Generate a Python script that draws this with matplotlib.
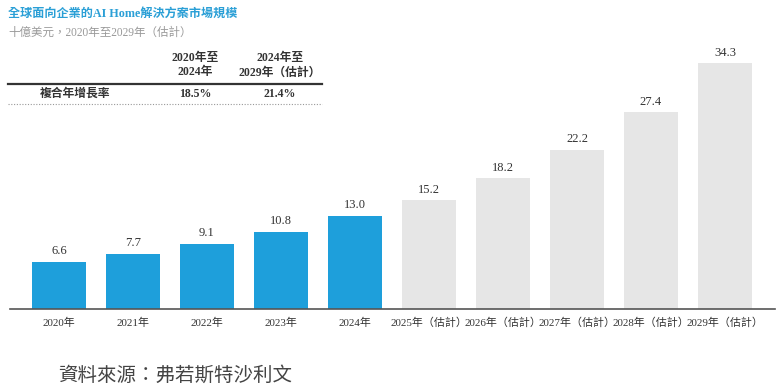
import matplotlib.pyplot as plt
from matplotlib.lines import Line2D

years = ["2020年", "2021年", "2022年", "2023年", "2024年",
         "2025年（估計）", "2026年（估計）", "2027年（估計）", "2028年（估計）", "2029年（估計）"]
values = [6.6, 7.7, 9.1, 10.8, 13.0, 15.2, 18.2, 22.2, 27.4, 34.3]
n_actual = 5

cagr_headers = ["2020年至\n2024年", "2024年至\n2029年（估計）"]
cagr_values = ["18.5%", "21.4%"]

BLUE = "#1E9FDB"
GREY = "#E6E6E6"
TXT = "#333333"
FONT = ["Liberation Serif", "Noto Sans CJK TC"]

plt.rcParams["font.family"] = FONT

W, H = 782, 391
fig = plt.figure(figsize=(W / 100, H / 100), dpi=100)

# axes placed in pixel terms: baseline at y=309, 40 units -> 287 px
ax = fig.add_axes([10 / W, (H - 309) / H, 765 / W, 287 / H])
colors = [BLUE if i < n_actual else GREY for i in range(len(values))]
x = list(range(len(values)))
bars = ax.bar(x, values, width=0.72, color=colors)
for b, v in zip(bars, values):
    ax.text(b.get_x() + b.get_width() / 2, v + 0.6, f"{v:.1f}",
            ha="center", va="bottom", fontsize=9, color=TXT)

ax.set_xlim(-0.662, 9.676)
ax.set_ylim(0, 40)
ax.set_xticks(x)
ax.set_xticklabels(years, fontsize=7.9, color=TXT)
ax.tick_params(axis="x", length=0, pad=6)
ax.set_yticks([])
for s in ["top", "right", "left"]:
    ax.spines[s].set_visible(False)
ax.spines["bottom"].set_color("#555555")
ax.spines["bottom"].set_linewidth(1.2)


def fx(px):
    return px / W


def fy(py):
    return 1 - py / H


# title block
fig.text(fx(8), fy(14), "全球面向企業的AI Home解決方案市場規模", fontsize=8.7,
         fontweight="bold", color="#2A9FD6", va="center")
fig.text(fx(8), fy(33), "十億美元，2020年至2029年（估計）", fontsize=8.3,
         color="#999999", va="center")

# CAGR table
col_x = [195, 280]
for cx, hdr, val in zip(col_x, cagr_headers, cagr_values):
    fig.text(fx(cx), fy(65), hdr, fontsize=8.5, fontweight="bold", color=TXT,
             ha="center", va="center", linespacing=1.3)
    fig.text(fx(cx), fy(94), val, fontsize=8.5, fontweight="bold", color=TXT,
             ha="center", va="center")
fig.text(fx(75), fy(94), "複合年增長率", fontsize=8.5, fontweight="bold",
         color=TXT, ha="center", va="center")
fig.add_artist(Line2D([fx(8), fx(322)], [fy(84), fy(84)], color="#333333",
                      linewidth=1.6))
fig.add_artist(Line2D([fx(8), fx(322)], [fy(104), fy(104)], color="#999999",
                      linewidth=0.8, linestyle=(0, (1, 1.5))))

# source
fig.text(fx(58), fy(375), "資料來源：弗若斯特沙利文", fontsize=14,
         color="#444444", style="italic", va="center")

fig.savefig("out.png", dpi=100)
